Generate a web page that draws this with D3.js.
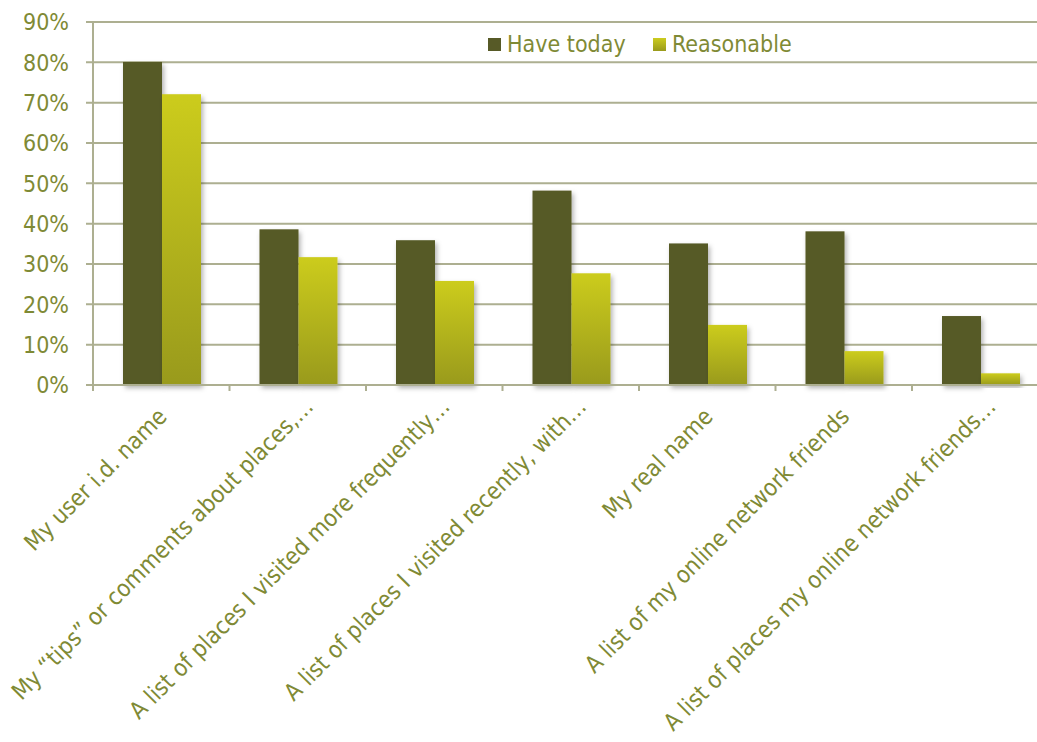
<!DOCTYPE html>
<html>
<head>
<meta charset="utf-8">
<script src="https://cdn.jsdelivr.net/npm/d3@7"></script>
<style>
  html, body { margin: 0; padding: 0; background: #fff; overflow: hidden; }
  svg { display: block; }
  text { font-family: "DejaVu Sans Condensed", "DejaVu Sans", sans-serif; fill: #7f8a35; }
</style>
</head>
<body>
<svg id="chart" width="1037" height="742"></svg>
<script>
const categories = [
  "My user i.d. name",
  "My \u201ctips\u201d or comments about places,\u2026",
  "A list of places I visited more frequently\u2026",
  "A list of places I visited recently, with\u2026",
  "My real name",
  "A list of my online network friends",
  "A list of places my online network friends\u2026"
];
const seriesNames = ["Have today", "Reasonable"];
const haveToday = [80.1, 38.6, 35.9, 48.2, 35.1, 38.1, 17.1];
const reasonable = [72.1, 31.7, 25.8, 27.7, 14.9, 8.4, 2.9];
const yTicks = [0, 10, 20, 30, 40, 50, 60, 70, 80, 90];

const svg = d3.select("#chart");
const margin = { left: 93, top: 22, bottom: 385 };
const bandW = 136.5;
const plotRight = margin.left + bandW * categories.length;

const x0 = d3.scaleBand().domain(categories).range([margin.left, plotRight]).padding(0);
const y = d3.scaleLinear().domain([0, 90]).range([margin.bottom, margin.top]);
const x1 = d3.scaleBand().domain(seriesNames).range([30, 108]).padding(0);

const defs = svg.append("defs");
const grad = defs.append("linearGradient").attr("id", "gradLight")
  .attr("x1", 0).attr("y1", 0).attr("x2", 0).attr("y2", 1);
grad.append("stop").attr("offset", "0%").attr("stop-color", "#cccc1f");
grad.append("stop").attr("offset", "100%").attr("stop-color", "#999a1c");
const f = defs.append("filter").attr("id", "shadow")
  .attr("x", "-20%").attr("y", "-10%").attr("width", "150%").attr("height", "130%");
f.append("feDropShadow").attr("dx", 2).attr("dy", 3).attr("stdDeviation", 2.5)
  .attr("flood-color", "#000").attr("flood-opacity", 0.3);

const gridColor = "#adaf91";

// gridlines
svg.append("g").selectAll("line").data(yTicks.filter(d => d > 0)).join("line")
  .attr("x1", margin.left - 7).attr("x2", plotRight)
  .attr("y1", d => y(d)).attr("y2", d => y(d))
  .attr("stroke", gridColor).attr("stroke-width", 2);

// y tick labels
svg.append("g").selectAll("text").data(yTicks).join("text")
  .attr("x", 69).attr("y", d => y(d)).attr("dy", "0.36em")
  .attr("text-anchor", "end").attr("font-size", 23)
  .text(d => d + "%");

// bars
const data = categories.map((c, i) => ({ c, vals: [haveToday[i], reasonable[i]] }));
const groups = svg.append("g").selectAll("g").data(data).join("g")
  .attr("transform", d => `translate(${x0(d.c)},0)`);
groups.selectAll("rect").data(d => d.vals.map((v, j) => ({ s: seriesNames[j], v }))).join("rect")
  .attr("x", d => x1(d.s)).attr("width", x1.bandwidth())
  .attr("y", d => y(d.v)).attr("height", d => y(0) - y(d.v))
  .attr("fill", d => d.s === "Have today" ? "#575a27" : "url(#gradLight)")
  .attr("filter", "url(#shadow)");

// y axis line
svg.append("line").attr("x1", margin.left).attr("x2", margin.left)
  .attr("y1", margin.top).attr("y2", y(0) + 6)
  .attr("stroke", gridColor).attr("stroke-width", 2);
// x axis line
svg.append("line").attr("x1", margin.left - 7).attr("x2", plotRight)
  .attr("y1", y(0)).attr("y2", y(0))
  .attr("stroke", gridColor).attr("stroke-width", 2);
// x ticks
svg.append("g").selectAll("line").data(categories).join("line")
  .attr("x1", d => x0(d)).attr("x2", d => x0(d))
  .attr("y1", y(0)).attr("y2", y(0) + 6)
  .attr("stroke", gridColor).attr("stroke-width", 2);

// category labels (truncated labels let the ellipsis hang past the anchor)
svg.append("g").selectAll("text").data(categories).join("text")
  .attr("transform", d => `translate(${x0(d) + x0.bandwidth() / 2 + 7},${y(0) + 33}) rotate(-45)`)
  .attr("dx", d => d.endsWith("\u2026") ? 14 : 0)
  .attr("text-anchor", "end").attr("font-size", 23.5)
  .text(d => d);

// legend
const legend = svg.append("g");
const legendX = [488, 653];
seriesNames.forEach((s, i) => {
  legend.append("rect").attr("x", legendX[i]).attr("y", 38).attr("width", 13).attr("height", 13)
    .attr("fill", i === 0 ? "#575a27" : "url(#gradLight)");
  legend.append("text").attr("x", legendX[i] + 19).attr("y", 52)
    .attr("font-size", 23).text(s);
});
</script>
</body>
</html>
